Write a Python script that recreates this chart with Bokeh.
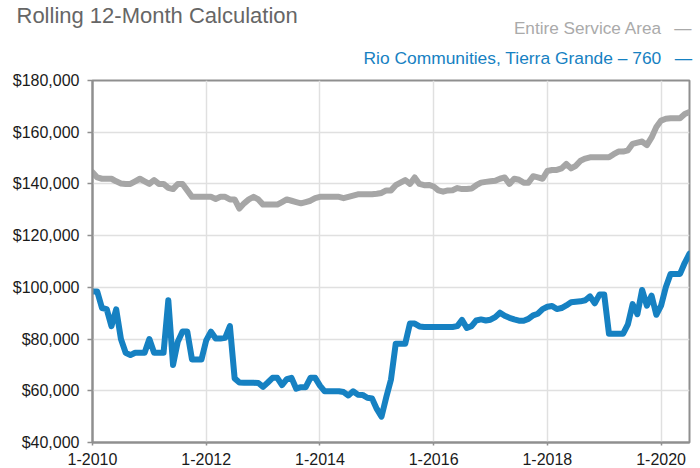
from bokeh.plotting import figure
from bokeh.models import Label, FixedTicker, NumeralTickFormatter, Range1d
from bokeh.embed import file_html
from bokeh.resources import INLINE

title_text = "Rolling 12-Month Calculation"
series_names = ["Entire Service Area", "Rio Communities, Tierra Grande \u2013 760"]
x_tick_labels = ["1-2010", "1-2012", "1-2014", "1-2016", "1-2018", "1-2020"]
x_tick_months = [0, 24, 48, 72, 96, 120]
y_ticks = [40000, 60000, 80000, 100000, 120000, 140000, 160000, 180000]

entire_area = [
    144500, 142500, 142000, 142000, 142000, 141000, 140200, 140000, 140000, 141000, 142000, 141000,
    140000, 141500, 140000, 140000, 138500, 138000, 140000, 140000, 137500, 135000, 135000, 135000,
    135000, 135000, 134200, 135000, 135000, 134000, 134000, 130500, 132500, 134000, 135000, 134000,
    132000, 132000, 132000, 132000, 133000, 134000, 133500, 133000, 132500, 133000, 133500, 134500,
    135000, 135000, 135000, 135000, 135000, 134500, 135000, 135500, 136000, 136000, 136000, 136000,
    136200, 136500, 137500, 137500, 139500, 140500, 141500, 140000, 142500, 140000, 139500, 139600,
    139000, 137500, 137000, 137500, 137600, 138400, 138000, 138000, 138200, 139500, 140500, 140800,
    141000, 141200, 142000, 142500, 140000, 142000, 141600, 140500, 140500, 143000, 142500, 142000,
    145000, 145400, 145400, 146000, 147700, 146000, 147000, 149000, 149800, 150300, 150300, 150300,
    150300, 150300, 151500, 152500, 152500, 153000, 155500, 156000, 156400, 155000, 158000, 162000,
    164500, 165200, 165400, 165400, 165400, 167000, 167800,
]
rio_communities = [
    98400, 98400, 92000, 91600, 85000, 91500, 80000, 74700, 73800, 74700, 74700, 74700,
    80000, 74700, 74700, 74700, 95000, 70000, 79000, 82900, 82900, 72100, 72100, 72100,
    79500, 82900, 80200, 80200, 80500, 85000, 64800, 63200, 63100, 63100, 63100, 63000,
    61500, 63200, 65000, 65000, 62200, 64500, 65000, 60800, 61400, 61400, 65000, 65000,
    62000, 59800, 59800, 59800, 59800, 59500, 58200, 59800, 58500, 58400, 57300, 57000,
    53000, 50000, 57500, 64400, 78200, 78200, 78200, 86000, 86000, 84900, 84700, 84700,
    84700, 84700, 84700, 84700, 84700, 85000, 87400, 84300, 85000, 87200, 87600, 87200,
    87500, 88500, 90200, 89000, 88200, 87600, 87100, 87100, 87800, 89200, 89800, 91600,
    92500, 92800, 91600, 92000, 93000, 94200, 94400, 94600, 95000, 96500, 93800, 97200,
    97200, 82100, 82100, 82100, 82100, 85700, 93500, 89600, 99000, 92900, 96800, 89400,
    92900, 100000, 105200, 105200, 105200, 109500, 113000,
]
months = list(range(len(entire_area)))

GRAY = "#a6a6a6"
BLUE = "#1681c2"
AXIS = "#8f8f8f"

p = figure(width=700, height=468, output_backend="svg", toolbar_location=None,
           x_range=Range1d(0, 126), y_range=Range1d(40000, 180000),
           min_border_left=92, min_border_right=11, min_border_top=80, min_border_bottom=26)
p.background_fill_color = "white"
p.border_fill_color = "white"
p.outline_line_color = AXIS
p.outline_line_width = 2

p.xgrid.grid_line_color = "#e0e0e0"
p.ygrid.grid_line_color = "#e0e0e0"
p.xgrid.grid_line_width = 1.5
p.ygrid.grid_line_width = 1.5

p.xaxis.ticker = FixedTicker(ticks=x_tick_months)
p.xaxis.major_label_overrides = {m: lab for m, lab in zip(x_tick_months, x_tick_labels)}
p.yaxis.ticker = FixedTicker(ticks=y_ticks)
p.yaxis.formatter = NumeralTickFormatter(format="$0,0")

for ax in (p.xaxis, p.yaxis):
    ax.axis_line_color = AXIS
    ax.axis_line_width = 2
    ax.major_tick_line_color = AXIS
    ax.major_tick_line_width = 1.5
    ax.major_tick_in = 0
    ax.minor_tick_line_color = None
    ax.major_label_text_font = "Liberation Sans"
    ax.major_label_text_font_size = "16px"
    ax.major_label_text_color = "#1a1a1a"
p.xaxis.major_tick_out = 3
p.xaxis.major_label_standoff = 7
p.yaxis.major_tick_out = 5
p.yaxis.major_label_standoff = 8

p.line(months, entire_area, line_color=GRAY, line_width=6, line_join="round", line_cap="round")
p.line(months, rio_communities, line_color=BLUE, line_width=6, line_join="round", line_cap="round")

def lab(text, cx, cy, color, size, align="left"):
    p.add_layout(Label(x=cx, y=cy, x_units="canvas", y_units="canvas", text=text,
                       text_color=color, text_font_size=size, text_font="Liberation Sans",
                       text_align=align, text_baseline="alphabetic"), "above")

lab(title_text, 16, 15, "#666666", "22px")
lab(series_names[0] + "\u2002 \u2014", 692, 27, "#aaaaaa", "17.2px", align="right")
lab(series_names[1] + "\u2002 \u2014", 692, 57, BLUE, "17.4px", align="right")

open("out.html", "w").write(file_html(p, INLINE))
